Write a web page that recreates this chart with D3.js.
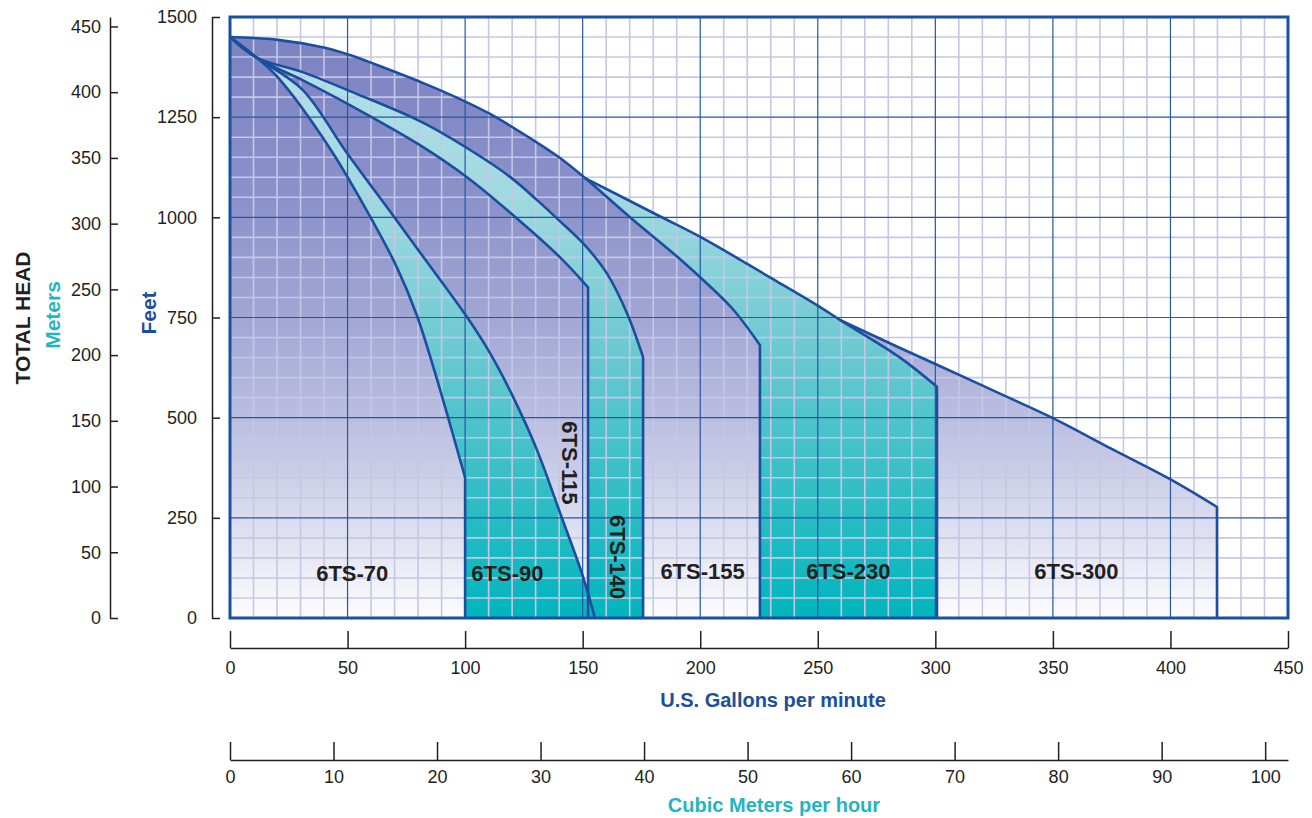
<!DOCTYPE html>
<html>
<head>
<meta charset="utf-8">
<script src="https://cdnjs.cloudflare.com/ajax/libs/d3/7.8.5/d3.min.js"></script>
<style>
  body { margin: 0; background: #fff; }
  svg { display: block; }
  text { font-family: "Liberation Sans", Arial, sans-serif; }
</style>
</head>
<body>
<svg id="chart" width="1312" height="818"></svg>
<script>
// pump curves: [US gpm, feet of head]
const pump70 = [[0, 1450], [11.5, 1398], [21, 1345], [42.5, 1172], [59.5, 1003], [71, 875], [79.5, 755], [86.3, 630], [92.3, 510], [100, 350]];
const pump90 = [[0, 1450], [11.5, 1398], [30.6, 1320], [49.8, 1160], [70.2, 998], [82.1, 902], [100.8, 751], [110.6, 661], [120.4, 552], [130.6, 419], [140.4, 262], [150.2, 102], [155.2, 0]];
const pump115 = [[0, 1450], [11.5, 1398], [30.6, 1343], [51, 1280], [80.8, 1180], [100.8, 1100], [119.1, 1012], [140.4, 900], [152.3, 825]];
const pump140 = [[0, 1450], [11.5, 1398], [30.6, 1363], [51, 1315], [80.8, 1240], [100.8, 1173], [119.1, 1101], [130.6, 1043], [140.4, 990], [151, 930], [160.3, 860], [168.9, 760], [175.7, 651]];
const pump155 = [[0, 1450], [20.4, 1443], [40.4, 1423], [51, 1405], [61.7, 1382], [83, 1333], [100.8, 1287], [110.6, 1258], [128.9, 1193], [140.4, 1148], [151, 1098], [170, 1001], [190, 903], [201, 845], [214, 770], [225.4, 681]];
const pump230 = [[151, 1098], [183, 1002], [201, 948], [230, 849], [251, 776], [259.4, 744], [285, 650], [300.7, 577]];
const pump300 = [[259.4, 744], [285, 674], [300.7, 632], [327.5, 560], [350, 499], [375, 422], [400.6, 344], [419.8, 277]];

const gpmTicks = d3.range(0, 451, 50);
const feetTicks = [0, 250, 500, 750, 1000, 1250, 1500];
const meterTicks = d3.range(0, 451, 50);
const cubicTicks = d3.range(0, 101, 10);

// drawn largest first so the smaller ranges sit on top
const pumps = [
  { name: '6TS-300', pts: pump300, fill: 'purple' },
  { name: '6TS-230', pts: pump230, fill: 'teal' },
  { name: '6TS-155', pts: pump155, fill: 'purple' },
  { name: '6TS-140', pts: pump140, fill: 'teal' },
  { name: '6TS-115', pts: pump115, fill: 'purple' },
  { name: '6TS-90', pts: pump90, fill: 'teal' },
  { name: '6TS-70', pts: pump70, fill: 'purple' }
];

// label spots in chart units (gpm, ft)
const labels = [
  { t: '6TS-70', at: [52, 112] },
  { t: '6TS-90', at: [118, 112] },
  { t: '6TS-115', at: [144.6, 387], rot: true },
  { t: '6TS-140', at: [165, 152], rot: true },
  { t: '6TS-155', at: [201, 117] },
  { t: '6TS-230', at: [263, 117] },
  { t: '6TS-300', at: [360, 117] }
];

const svg = d3.select('#chart');
const pLeft = 230, pRight = 1288, pTop = 17, pBottom = 618;

const x = d3.scaleLinear().domain([0, 450]).range([pLeft, pRight]);
const y = d3.scaleLinear().domain([0, 1500]).range([pBottom, pTop]);
const yM = d3.scaleLinear().domain([0, 1500 * 0.3048]).range([pBottom, pTop]);
const xC = d3.scaleLinear().domain([0, 450 * 0.2271247]).range([pLeft, pRight]);

const defs = svg.append('defs');
function grad(id, stops) {
  const g = defs.append('linearGradient').attr('id', id)
    .attr('gradientUnits', 'userSpaceOnUse')
    .attr('x1', 0).attr('x2', 0).attr('y1', pTop).attr('y2', pBottom);
  stops.forEach(s => g.append('stop').attr('offset', s[0]).attr('stop-color', s[1]));
}
grad('purple', [[0, '#7a81c1'], [0.3, '#8b91c9'], [0.5, '#a2a6d4'], [0.7, '#c0c3e2'], [0.88, '#e3e4f2'], [1, '#fdfdff']]);
grad('teal', [[0, '#b7e3e9'], [0.3, '#a0d9e0'], [0.5, '#78ccd4'], [0.75, '#3cbfc7'], [1, '#00b5bd']]);

const curve = d3.curveCatmullRom.alpha(0.5);

const area = d3.area()
  .x(d => x(d[0]))
  .y0(y(0))
  .y1(d => y(d[1]))
  .curve(curve);

const line = d3.line()
  .x(d => x(d[0]))
  .y(d => y(d[1]))
  .curve(curve);

// fills
svg.append('g').selectAll('path')
  .data(pumps)
  .join('path')
  .attr('d', d => area(d.pts))
  .attr('fill', d => `url(#${d.fill})`);

// grid
const grid = svg.append('g');
const minorX = d3.range(0, 451, 10).filter(v => v % 50 !== 0);
const minorY = d3.range(0, 1501, 50).filter(v => v % 250 !== 0);
grid.selectAll('.mx').data(minorX).join('line')
  .attr('x1', d => x(d)).attr('x2', d => x(d)).attr('y1', pTop).attr('y2', pBottom)
  .attr('stroke', '#c4c7e5').attr('stroke-width', 1.6);
grid.selectAll('.my').data(minorY).join('line')
  .attr('x1', pLeft).attr('x2', pRight).attr('y1', d => y(d)).attr('y2', d => y(d))
  .attr('stroke', '#c4c7e5').attr('stroke-width', 1.6);
grid.selectAll('.Mx').data(gpmTicks).join('line')
  .attr('x1', d => x(d)).attr('x2', d => x(d)).attr('y1', pTop).attr('y2', pBottom)
  .attr('stroke', '#2457a6').attr('stroke-width', 1.2);
grid.selectAll('.My').data(feetTicks).join('line')
  .attr('x1', pLeft).attr('x2', pRight).attr('y1', d => y(d)).attr('y2', d => y(d))
  .attr('stroke', '#2457a6').attr('stroke-width', 1.2);

// curve outlines with the drop to zero at max flow
svg.append('g').selectAll('path')
  .data(pumps)
  .join('path')
  .attr('d', d => {
    const last = d.pts[d.pts.length - 1];
    return line(d.pts) + `L${x(last[0])},${y(0)}`;
  })
  .attr('fill', 'none')
  .attr('stroke', '#1b4e9e')
  .attr('stroke-width', 2.6)
  .attr('stroke-linejoin', 'round');

// frame
svg.append('rect')
  .attr('x', pLeft).attr('y', pTop)
  .attr('width', pRight - pLeft).attr('height', pBottom - pTop)
  .attr('fill', 'none').attr('stroke', '#1b50a0').attr('stroke-width', 3);

// model labels
svg.append('g').selectAll('text')
  .data(labels)
  .join('text')
  .attr('transform', d => `translate(${x(d.at[0])},${y(d.at[1])})` + (d.rot ? ' rotate(90)' : ''))
  .attr('text-anchor', 'middle')
  .attr('dominant-baseline', 'central')
  .attr('font-size', 22)
  .attr('font-weight', 'bold')
  .attr('fill', '#231f20')
  .text(d => d.t);

// axes
function styleAxis(g) {
  g.select('.domain').attr('stroke', '#231f20').attr('stroke-width', 1.5);
  g.selectAll('.tick line').attr('stroke', '#231f20').attr('stroke-width', 1.5);
  g.selectAll('.tick text').attr('fill', '#231f20').attr('font-size', 18)
    .attr('font-family', '"Liberation Sans", Arial, sans-serif');
}
const fmt = d3.format('d');

svg.append('g').attr('transform', 'translate(212,0)')
  .call(d3.axisLeft(y).tickValues(feetTicks).tickFormat(fmt).tickSizeInner(-8).tickSizeOuter(0).tickPadding(15))
  .call(styleAxis);

svg.append('g').attr('transform', 'translate(110,0)')
  .call(d3.axisLeft(yM).tickValues(meterTicks).tickFormat(fmt).tickSizeInner(-8).tickSizeOuter(0).tickPadding(9))
  .call(styleAxis);

svg.append('g').attr('transform', 'translate(0,648)')
  .call(d3.axisBottom(x).tickValues(gpmTicks).tickFormat(fmt).tickSizeInner(-17).tickSizeOuter(0).tickPadding(13))
  .call(styleAxis);

svg.append('g').attr('transform', 'translate(0,760)')
  .call(d3.axisBottom(xC).tickValues(cubicTicks).tickFormat(fmt).tickSizeInner(-18).tickSizeOuter(0).tickPadding(10))
  .call(styleAxis);

// axis titles
svg.append('text').attr('transform', 'translate(22,318) rotate(-90)')
  .attr('text-anchor', 'middle').attr('dominant-baseline', 'central')
  .attr('font-size', 21).attr('font-weight', 'bold').attr('fill', '#231f20')
  .text('TOTAL HEAD');
svg.append('text').attr('transform', 'translate(52,315) rotate(-90)')
  .attr('text-anchor', 'middle').attr('dominant-baseline', 'central')
  .attr('font-size', 21).attr('font-weight', 'bold').attr('fill', '#1fb6c2')
  .text('Meters');
svg.append('text').attr('transform', 'translate(148,313) rotate(-90)')
  .attr('text-anchor', 'middle').attr('dominant-baseline', 'central')
  .attr('font-size', 21).attr('font-weight', 'bold').attr('fill', '#1b4f9c')
  .text('Feet');
svg.append('text').attr('x', 773).attr('y', 700)
  .attr('text-anchor', 'middle').attr('dominant-baseline', 'central')
  .attr('font-size', 20).attr('font-weight', 'bold').attr('fill', '#1b4f9c')
  .text('U.S. Gallons per minute');
svg.append('text').attr('x', 774).attr('y', 805)
  .attr('text-anchor', 'middle').attr('dominant-baseline', 'central')
  .attr('font-size', 20).attr('font-weight', 'bold').attr('fill', '#1fb6c2')
  .text('Cubic Meters per hour');
</script>
</body>
</html>
